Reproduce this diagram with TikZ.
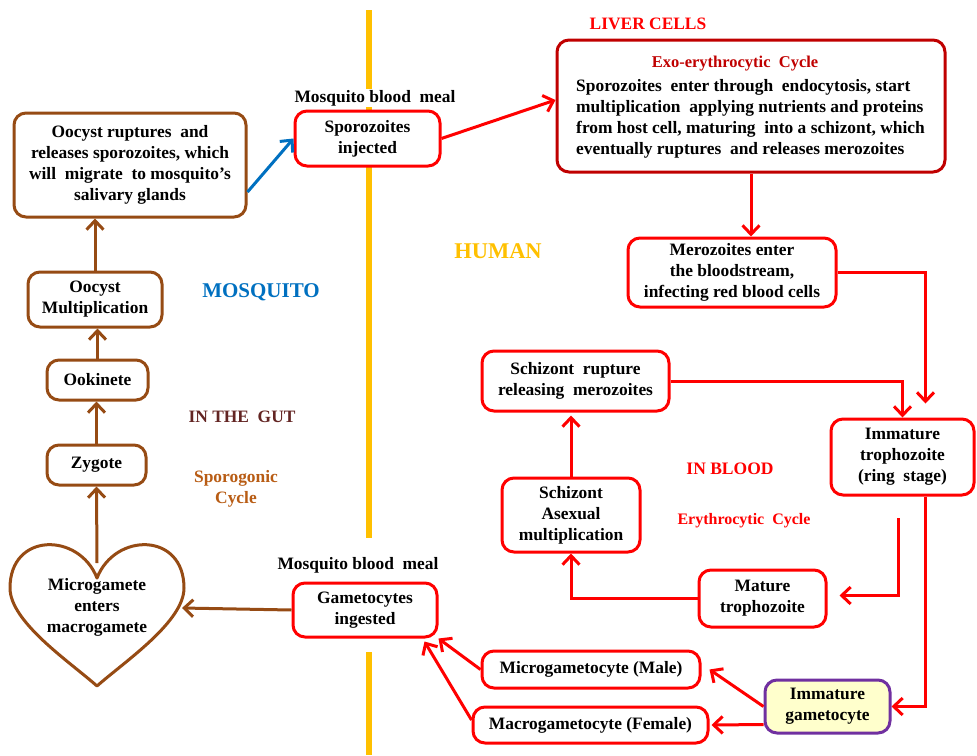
\documentclass[tikz,border=0pt]{standalone}
\usepackage{fontspec}
\setmainfont{Liberation Serif}
\usetikzlibrary{arrows.meta,calc}
\definecolor{brownline}{RGB}{150,75,20}
\definecolor{redline}{RGB}{255,0,0}
\definecolor{liverred}{RGB}{192,0,0}
\definecolor{bluearrow}{RGB}{0,112,192}
\definecolor{dividery}{RGB}{255,192,0}
\definecolor{purpleline}{RGB}{112,48,160}
\definecolor{paleyellow}{RGB}{255,255,204}
\definecolor{gutcol}{RGB}{99,37,35}
\definecolor{sporocol}{RGB}{184,92,20}
\tikzset{
  txt/.style={font=\bfseries\fontsize{17.4}{21}\selectfont, align=center, inner sep=0pt},
  box/.style={txt, rounded corners=12pt, line width=3pt, fill=white},
  brbox/.style={box, draw=brownline},
  rdbox/.style={box, draw=redline},
  sz/.style 2 args={minimum width=#1, minimum height=#2},
  tipv/.style={-{Straight Barb[length=9pt,width=17pt,line width=3pt]}},
  brarrow/.style={draw=brownline, line width=3pt, tipv},
  rdarrow/.style={draw=redline, line width=3pt, tipv},
  blarrow/.style={draw=bluearrow, line width=3pt, tipv},
  lbl/.style={txt, fill=white, inner sep=1pt},
}
\begin{document}
\begin{tikzpicture}[x=1pt, y=-1pt]
\useasboundingbox (0,0) rectangle (977,755);

% dividing line between mosquito and human
\draw[dividery, line width=6pt] (369,10) -- (369,538);
\draw[dividery, line width=6pt] (369,652) -- (369,755);

% --- mosquito side ---
\node[brbox, sz={232pt}{104pt}] (oocystR) at (130,165)
  {Oocyst ruptures\ \ and\\releases sporozoites, which\\will\ \ migrate\ \ to mosquito’s\\salivary glands};
\node[brbox, sz={134pt}{55pt}] (oocystM) at (95,299.5) {Oocyst\\Multiplication};
\node[brbox, sz={101pt}{40pt}] (ookinete) at (97.5,380) {Ookinete};
\node[brbox, sz={99pt}{40pt}] (zygote) at (96.5,465) {Zygote};

% heart-shaped fertilisation stage
\coordinate (heartDip) at (97,578);
\coordinate (heartR) at (182,608);
\draw[brownline, line width=3pt, line join=round]
  (heartDip) .. controls (115,532) and (184,532) .. (184,588)
  .. controls (184,622) and (124,662) .. (97,686)
  .. controls (70,662) and (10,622) .. (10,588)
  .. controls (10,532) and (79,532) .. (heartDip) -- cycle;
\node[txt] (heart) at (97,607) {Microgamete\\enters\\macrogamete};

\draw[brarrow] (oocystM.north) -- (oocystM.north |- oocystR.south);
\draw[brarrow] (ookinete.north) -- (ookinete.north |- oocystM.south);
\draw[brarrow] (zygote.north) -- (zygote.north |- ookinete.south);
\draw[brarrow] ($(heartDip)+(0,-15)$) -- (zygote.south);

\node[txt, text=bluearrow, font=\bfseries\fontsize{21}{24}\selectfont] (mosq) at (261,292) {MOSQUITO};
\node[txt, text=gutcol] (gut) at (242,417) {IN THE\ \ GUT};
\node[txt, text=sporocol] (sporog) at (236,488.5) {Sporogonic\\Cycle};

% --- human side ---
\node[lbl] (meal1) at (375,98) {Mosquito blood\ \ meal};
\node[rdbox, sz={145pt}{55pt}] (sporo) at (367.5,138.5) {Sporozoites\\injected};
\draw[blarrow] ($(oocystR.east)+(0,27)$) -- (sporo.west);

\node[txt, text=redline] (liverlbl) at (648,24) {LIVER CELLS};
\node[box, draw=liverred, sz={388pt}{132pt}] (liver) at (751,106) {};
\node[txt, text=liverred, font=\bfseries\fontsize{16.5}{21}\selectfont] (exo) at (735,64) {Exo-erythrocytic\ \ Cycle};
\node[txt, align=left, anchor=west] (livertxt) at (576,119)
  {Sporozoites\ \ enter through\ \ endocytosis, start\\multiplication\ \ applying nutrients and proteins\\from host cell, maturing\ \ into a schizont, which\\eventually ruptures\ \ and releases merozoites};
\draw[rdarrow] (sporo.east) -- ($(liver.west)+(0,-6)$);

\node[txt, text=dividery, font=\bfseries\fontsize{22.5}{24}\selectfont] (human) at (498,251) {HUMAN};

\node[rdbox, sz={208pt}{69pt}] (mero) at (732,272.5) {Merozoites enter\\the bloodstream,\\infecting red blood cells};
\draw[rdarrow] (liver.south -| mero.north) ++(19,0) -- ($(mero.north)+(19,0)$);

\node[rdbox, sz={187pt}{60pt}] (schR) at (575.5,381) {Schizont\ \ rupture\\releasing\ \ merozoites};
\node[rdbox, sz={143pt}{76pt}] (immT) at (902.5,457) {Immature\\trophozoite\\(ring\ \ stage)};
\node[rdbox, sz={138pt}{74pt}] (schA) at (571,515) {Schizont\\Asexual\\multiplication};
\node[rdbox, sz={127pt}{57pt}] (matT) at (762.5,598.5) {Mature\\trophozoite};

\draw[rdarrow] (mero.east) -| ($(immT.north)+(23,-14)$);
\draw[rdarrow] (schR.east) -| (immT.north);
\draw[rdarrow, shorten >=3pt] (schA.north) -- (schA.north |- schR.south);
\draw[rdarrow] (matT.west) -| (schA.south);
\coordinate (ringOut) at (898,518);
\draw[rdarrow] (ringOut) |- ($(matT.east)+(12,-3)$);

\node[txt, text=redline, font=\bfseries\fontsize{17.5}{20}\selectfont] (blood) at (730,469) {IN BLOOD};
\node[txt, text=redline, font=\bfseries\fontsize{16}{20}\selectfont] (ery) at (744,521) {Erythrocytic\ \ Cycle};

\node[box, draw=purpleline, fill=paleyellow, sz={125pt}{53pt}] (gamI) at (827.5,706.5) {Immature\\gametocyte};
\node[rdbox, sz={218pt}{37pt}] (micro) at (591,669.5) {Microgametocyte (Male)};
\node[rdbox, sz={235pt}{36pt}] (macro) at (590.5,725) {Macrogametocyte (Female)};

\draw[rdarrow] ($(immT.south)+(23,0)$) |- (gamI.east);
\draw[rdarrow] (gamI.west) -- ($(micro.east)+(8,0)$);
\draw[rdarrow] ($(gamI.west)+(0,18)$) -- ($(macro.east)+(2,0)$);

\node[lbl] (meal2) at (358,565) {Mosquito blood\ \ meal};
\node[rdbox, sz={144pt}{54pt}] (gamIng) at (365,610) {Gametocytes\\ingested};
\draw[rdarrow] (micro.west) -- (gamIng.south east);
\draw[rdarrow] ($(macro.west)+(0,-5)$) -- ($(gamIng.south east)+(-14,3)$);
\draw[brarrow] (gamIng.west) -- (heartR);
\end{tikzpicture}
\end{document}
